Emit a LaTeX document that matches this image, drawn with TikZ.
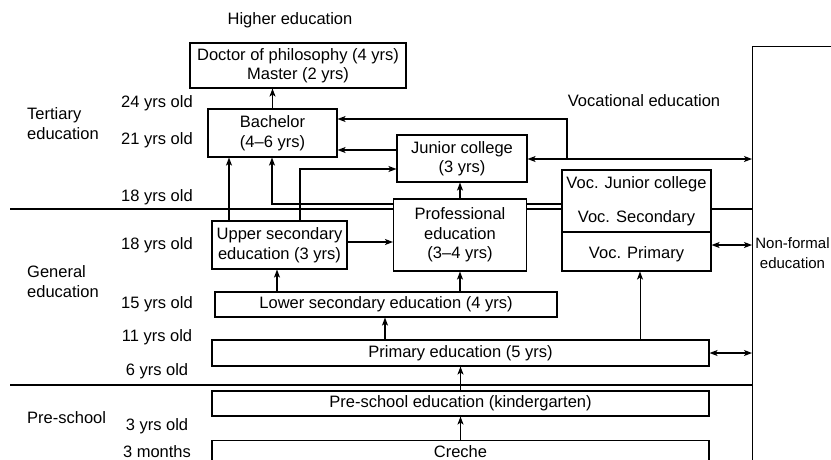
\documentclass[tikz,border=0pt]{standalone}
\usepackage{fontspec}
\setmainfont{Liberation Sans}
\usetikzlibrary{arrows.meta}
\pgfdeclarelayer{bg}
\pgfsetlayers{bg,main}
\begin{document}
\begin{tikzpicture}[x=1pt,y=-1pt,
  every node/.style={font=\fontsize{16.5}{19.5}\selectfont, inner sep=0pt},
  box/.style={draw, line width=1.1pt, fill=white, align=center},
  lbl/.style={align=left, anchor=west},
  ln/.style={line width=1.1pt},
  arr/.style={line width=1.1pt, -{Stealth[length=8pt,width=6pt,inset=2pt]}},
  darr/.style={line width=1.1pt, {Stealth[length=8pt,width=6pt,inset=2pt]}-{Stealth[length=8pt,width=6pt,inset=2pt]}}]
\useasboundingbox (0,0) rectangle (831,459);
\clip (0,0) rectangle (831,459);
% helper coordinates
\coordinate (lft) at (10,0);
\coordinate (xA) at (229,0);
\coordinate (xB) at (272,0);
\coordinate (xC) at (300,0);
\coordinate (xD) at (567,0);
\coordinate (xE) at (640,0);
\coordinate (xF) at (385,0);
\coordinate (xG) at (277,0);
\coordinate (yA) at (0,119);
\coordinate (yB) at (0,150);
\coordinate (yI) at (0,159);
\coordinate (yC) at (0,169);
\coordinate (yD) at (0,204);
\coordinate (yE) at (0,209);
\coordinate (yJ) at (0,232);
\coordinate (yF) at (0,242);
\coordinate (yG) at (0,245);
\coordinate (yH) at (0,385);
% non-formal box
\node[draw, line width=1.1pt, minimum width=90pt, minimum height=430pt, anchor=north west] (nfbox) at (752,46) {};
\node[align=center, font=\fontsize{15}{20}\selectfont] (nftext) at (792.5,253) {Non-formal\\education};
% boxes
\node[box, minimum width=216pt, minimum height=45pt] (phd) at (298,65.5) {Doctor of philosophy (4 yrs)\\Master (2 yrs)};
\node[box, minimum width=129pt, minimum height=48pt] (bach) at (272.5,133) {Bachelor\\(4--6 yrs)};
\node[box, minimum width=130pt, minimum height=47pt] (jc) at (462,158.5) {Junior college\\(3 yrs)};
\node[box, minimum width=135pt, minimum height=48pt] (up) at (279.5,245) {Upper secondary\\education (3 yrs)};
\node[box, minimum width=133pt, minimum height=72pt] (prof) at (460,235) {Professional\\education\\(3--4 yrs)};
\node[box, minimum width=149pt, minimum height=101pt] (voc) at (636.5,220.5) {};
\node (vjc) at (636.5,184) {Voc. Junior college};
\node (vsec) at (636.5,218) {Voc. Secondary};
\node (vpri) at (636.5,254) {Voc. Primary};
\draw[ln] (voc.west |- yJ) -- (voc.east |- yJ);
\node[box, minimum width=342pt, minimum height=25pt] (lsec) at (386,304.5) {Lower secondary education (4 yrs)};
\node[box, minimum width=497pt, minimum height=26pt] (prim) at (460.5,353) {Primary education (5 yrs)};
\node[box, minimum width=497pt, minimum height=25pt] (pre) at (460.5,403.5) {Pre-school education (kindergarten)};
\node[box, minimum width=497pt, minimum height=23pt, anchor=north] (cre) at (460.5,440) {Creche};
% background lines
\begin{pgfonlayer}{bg}
\draw[ln] (lft |- yE) -- (nfbox.west |- yE);
\draw[ln] (lft |- yH) -- (nfbox.west |- yH);
\draw[arr] (voc.west |- yD) -- (xB |- yD) -- (bach.south -| xB);
\end{pgfonlayer}
% connectors
\draw[arr] (bach.north) -- (phd.south -| bach.north);
\draw[arr] (up.north -| xA) -- (bach.south -| xA);
\draw[arr] (up.north -| xC) -- (xC |- yC) -- (jc.west |- yC);
\draw[arr] (jc.west |- yB) -- (bach.east |- yB);
\draw[arr] (xD |- yI) -- (xD |- yA) -- (bach.east |- yA);
\draw[darr] (jc.east |- yI) -- (nfbox.west |- yI);
\draw[arr] (prof.north) -- (prof.north |- jc.south);
\draw[arr] (up.east |- yF) -- (prof.west |- yF);
\draw[darr] (voc.east |- yG) -- (nfbox.west |- yG);
\draw[arr] (lsec.north -| xG) -- (up.south -| xG);
\draw[arr] (lsec.north -| prof.south) -- (prof.south);
\draw[arr] (prim.north -| xF) -- (lsec.south -| xF);
\draw[arr, line width=0.9pt] (prim.north -| xE) -- (voc.south -| xE);
\draw[darr] (prim.east) -- (nfbox.west |- prim.east);
\draw[arr] (pre.north) -- (prim.south);
\draw[arr] (cre.north) -- (pre.south);
% labels
\node (he) at (290,20) {Higher education};
\node (ve) at (644,101) {Vocational education};
\node[lbl] (te) at (27,123.5) {Tertiary\\education};
\node[lbl] (ge) at (27,281.5) {General\\education};
\node[lbl] (ps) at (27,418) {Pre-school};
\node (a24) at (157,103) {24 yrs old};
\node (a21) at (157,140) {21 yrs old};
\node (a18a) at (157,197) {18 yrs old};
\node (a18b) at (157,245) {18 yrs old};
\node (a15) at (157,304) {15 yrs old};
\node (a11) at (157,337) {11 yrs old};
\node (a6) at (157,371) {6 yrs old};
\node (a3) at (157,426) {3 yrs old};
\node (a3m) at (157,451.5) {3 months};
\end{tikzpicture}
\end{document}
